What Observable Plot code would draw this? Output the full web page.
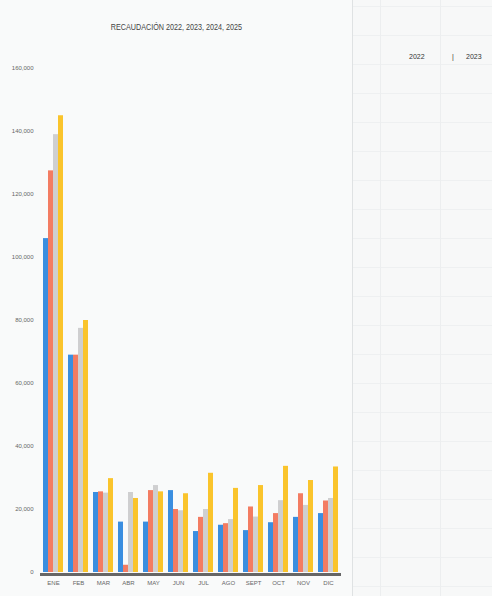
<!DOCTYPE html>
<html>
<head>
<meta charset="utf-8">
<script src="https://cdn.jsdelivr.net/npm/d3@7"></script>
<script src="https://cdn.jsdelivr.net/npm/@observablehq/plot@0.6"></script>
<style>
  html, body { margin: 0; padding: 0; }
  body {
    width: 492px; height: 596px; overflow: hidden; position: relative;
    background-color: #f7f8f8;
    background-image:
      linear-gradient(to right, #eceeef 1px, transparent 1px),
      linear-gradient(to bottom, #eef0f1 1px, transparent 1px);
    background-size: 60px 100%, 100% 29px;
    background-position: 380px 0, 0 6px;
    font-family: "Liberation Sans Narrow", "Liberation Sans", sans-serif;
  }
  #chart {
    position: absolute; left: 0; top: 0; width: 352px; height: 596px;
    background: #f9fafa; border-right: 1px solid #dfe2e3;
  }
  #title {
    position: absolute; left: 0; top: 22px; width: 352px; text-align: center;
    font-size: 9px; color: #444; white-space: nowrap;
    transform: scaleX(0.8); transform-origin: 178px 0;
  }
  #plot { position: absolute; left: 0; top: 40px; }
  .side { position: absolute; top: 53px; font-size: 7px; color: #333; white-space: nowrap; }
</style>
</head>
<body>
<div id="chart">
  <div id="title">RECAUDACIÓN 2022, 2023, 2024, 2025</div>
  <div id="plot"></div>
</div>
<div class="side" style="left:409px">2022</div>
<div class="side" style="left:452px">|</div>
<div class="side" style="left:466px">2023</div>
<script>
const months = ["ENE","FEB","MAR","ABR","MAY","JUN","JUL","AGO","SEPT","OCT","NOV","DIC"];
const years = ["2022","2023","2024","2025"];
const v2022 = [106000, 69000, 25400, 16000, 16000, 26000, 13000, 15000, 13300, 15800, 17500, 18700];
const v2023 = [127500, 69000, 25600, 2300, 26000, 20000, 17500, 15500, 20800, 18700, 25000, 22700];
const v2024 = [139000, 77500, 25200, 25400, 27600, 19600, 20000, 16800, 17600, 22800, 21300, 23500];
const v2025 = [145000, 80000, 29800, 23500, 25600, 25000, 31500, 26700, 27600, 33700, 29200, 33500];
const yTicks = [0, 20000, 40000, 60000, 80000, 100000, 120000, 140000, 160000];
const colors = ["#3a8ee0", "#f37c62", "#cfcfd0", "#fac42c"];

const series = [v2022, v2023, v2024, v2025];
const data = [];
months.forEach((m, i) => years.forEach((y, j) => data.push({month: m, year: y, value: series[j][i]})));

const plot = Plot.plot({
  width: 352,
  height: 556,
  marginLeft: 38,
  marginRight: 9,
  marginTop: 28,
  marginBottom: 24,
  style: {background: "transparent", fontFamily: "Liberation Sans Narrow, Liberation Sans, sans-serif", fontSize: "6px", color: "#666"},
  fx: {domain: months, padding: 0.04, label: null, tickSize: 0, tickPadding: 8},
  x: {domain: years, padding: 0.06, axis: null},
  y: {domain: [0, 160000], ticks: yTicks, tickFormat: d3.format(","), tickSize: 0, tickPadding: 8, label: null},
  color: {domain: years, range: colors},
  marks: [
    Plot.barY(data, {fx: "month", x: "year", y: "value", fill: "year"}),
    Plot.ruleY([0], {stroke: "#666", strokeWidth: 3, dy: 2, insetLeft: -1, insetRight: -1})
  ]
});
document.getElementById("plot").appendChild(plot);
</script>
</body>
</html>
